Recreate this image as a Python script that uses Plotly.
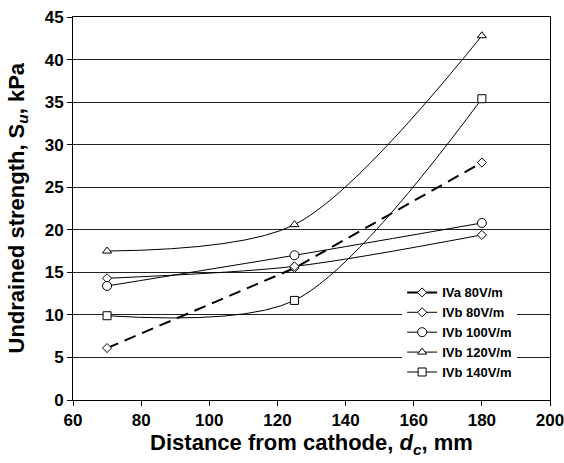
import plotly.graph_objects as go

x_vals = [70, 125, 180]
iva_80 = [6.1, 15.5, 27.9]
ivb_80 = [14.3, 15.7, 19.4]
ivb_100 = [13.4, 17.0, 20.8]
ivb_120 = [17.5, 20.6, 42.8]
ivb_140 = [9.9, 11.7, 35.4]
x_ticks = [60, 80, 100, 120, 140, 160, 180, 200]
y_ticks = [0, 5, 10, 15, 20, 25, 30, 35, 40, 45]

FONT = "Liberation Sans, Arial, sans-serif"
mk = dict(color="white", line=dict(color="black", width=1))

fig = go.Figure()
# IVa: dashed line in plot, solid in legend
fig.add_trace(go.Scatter(x=x_vals, y=iva_80, mode="lines+markers", showlegend=False,
                         line=dict(color="black", width=2, dash="12px,7px"),
                         marker=dict(symbol="diamond", size=7, **mk)))
fig.add_trace(go.Scatter(x=[None], y=[None], mode="lines+markers", name="<b>IVa 80V/m</b>",
                         line=dict(color="black", width=2),
                         marker=dict(symbol="diamond", size=7, **mk)))
series = [
    ("IVb 80V/m", ivb_80, "diamond", 7),
    ("IVb 100V/m", ivb_100, "circle", 9),
    ("IVb 120V/m", ivb_120, "triangle-up", 8),
    ("IVb 140V/m", ivb_140, "square", 8),
]
for name, ys, sym, sz in series:
    fig.add_trace(go.Scatter(x=x_vals, y=ys, mode="lines+markers", name=f"<b>{name}</b>",
                             line=dict(color="black", width=1, shape="spline", smoothing=0.85),
                             marker=dict(symbol=sym, size=sz, **mk)))

fig.update_layout(
    width=564, height=463,
    margin=dict(l=73, r=14, t=17, b=63),
    paper_bgcolor="white", plot_bgcolor="white",
    font=dict(family=FONT, color="black"),
    legend=dict(x=0.69, y=0.32, xanchor="left", yanchor="top",
                bgcolor="white", borderwidth=0,
                font=dict(size=13, family=FONT),
                tracegroupgap=0, itemwidth=30),
    annotations=[dict(
        text="<b>Undrained strength, S<sub><i>u</i></sub>, kPa</b>",
        xref="paper", yref="paper", x=0, y=0.5, xshift=-56,
        xanchor="center", yanchor="middle", textangle=-90, showarrow=False,
        font=dict(size=22, family=FONT, color="black"),
    )],
)
fig.update_xaxes(
    range=[60, 200], tickvals=x_ticks, ticktext=[f"<b>{t}</b>" for t in x_ticks],
    showgrid=False, ticklabeloverflow="allow", automargin=False,
    showline=True, linecolor="black", linewidth=1, mirror=True,
    ticks="outside", ticklen=5, tickcolor="black",
    tickfont=dict(size=17, family=FONT),
    title=dict(text="<b>Distance from cathode, <i>d<sub>c</sub></i>, mm</b>",
               font=dict(size=22, family=FONT), standoff=3),
    zeroline=False,
)
fig.update_yaxes(
    range=[0, 45], tickvals=y_ticks, ticktext=[f"<b>{t}</b>" for t in y_ticks],
    showgrid=True, gridcolor="#222", gridwidth=1, automargin=False,
    showline=True, linecolor="black", linewidth=1, mirror=True,
    ticks="outside", ticklen=5, tickcolor="black",
    tickfont=dict(size=17, family=FONT),
    zeroline=False,
)
fig.write_html("out.html")
